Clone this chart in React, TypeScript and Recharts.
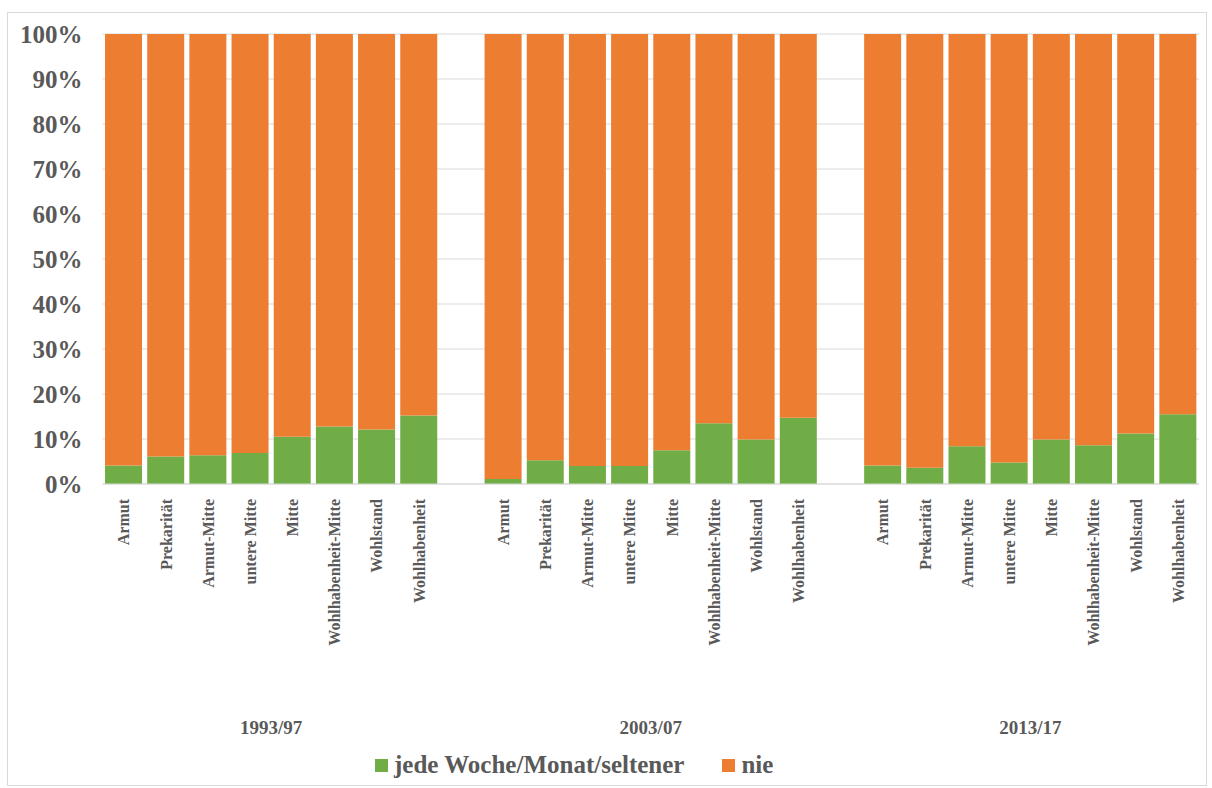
import React from 'react';
import { BarChart, Bar, XAxis, YAxis, CartesianGrid, Legend } from 'recharts';

const categories = ['Armut', 'Prekarität', 'Armut-Mitte', 'untere Mitte', 'Mitte', 'Wohlhabenheit-Mitte', 'Wohlstand', 'Wohlhabenheit'];
const periods = ['1993/97', '2003/07', '2013/17'];

// share "jede Woche/Monat/seltener" vs "nie", per period
const green1993 = [4.1, 6.1, 6.4, 6.9, 10.5, 12.8, 12.1, 15.2];
const nie1993 = [95.9, 93.9, 93.6, 93.1, 89.5, 87.2, 87.9, 84.8];
const green2003 = [1.1, 5.3, 4.0, 4.0, 7.5, 13.5, 9.9, 14.7];
const nie2003 = [98.9, 94.7, 96.0, 96.0, 92.5, 86.5, 90.1, 85.3];
const green2013 = [4.1, 3.6, 8.4, 4.8, 9.9, 8.6, 11.2, 15.5];
const nie2013 = [95.9, 96.4, 91.6, 95.2, 90.1, 91.4, 88.8, 84.5];

const yTicks = [0, 10, 20, 30, 40, 50, 60, 70, 80, 90, 100];

const GREEN = '#70AD47';
const ORANGE = '#ED7D31';
const TEXT = '#595959';
const FONT = '"Liberation Serif", serif';

const seriesByPeriod = [
  [green1993, nie1993],
  [green2003, nie2003],
  [green2013, nie2013],
];

// one empty slot between the period groups
const data: any[] = [];
seriesByPeriod.forEach(([g, n], p) => {
  categories.forEach((c, i) => {
    data.push({ key: `${p}-${i}`, label: c, period: periods[p], idx: i, green: g[i], nie: n[i] });
  });
  if (p < seriesByPeriod.length - 1) data.push({ key: `gap-${p}`, label: '', period: '', idx: -1 });
});

const W = 1198;
const H = 772;
const M = { top: 21, right: 7, left: 0, bottom: 0 };
const Y_W = 94.5;
const SLOT = (W - M.left - M.right - Y_W) / data.length;

const CatTick = (props: any) => {
  const { x, y, payload } = props;
  const row = data.find((d) => d.key === payload.value);
  if (!row || row.idx < 0) return null;
  return (
    <g>
      <text
        transform={`translate(${x},${y + 7}) rotate(-90)`}
        textAnchor="end"
        dy="0.36em"
        fill={TEXT}
        fontSize={16}
        fontWeight="bold"
        fontFamily={FONT}
      >
        {row.label}
      </text>
      {row.idx === 3 && (
        <text x={x + SLOT / 2} y={y + 242} textAnchor="middle" fill={TEXT} fontSize={19} fontWeight="bold" fontFamily={FONT}>
          {row.period}
        </text>
      )}
    </g>
  );
};

const LegendBox = () => (
  <div style={{ display: 'flex', alignItems: 'center', fontFamily: FONT, fontWeight: 'bold', fontSize: 25, color: TEXT }}>
    <span style={{ width: 13, height: 13, background: GREEN, display: 'inline-block', marginRight: 6 }} />
    <span>jede Woche/Monat/seltener</span>
    <span style={{ width: 13, height: 13, background: ORANGE, display: 'inline-block', marginLeft: 38, marginRight: 6 }} />
    <span>nie</span>
  </div>
);

export default function App() {
  return (
    <div style={{ position: 'absolute', left: 7, top: 12, width: W, height: H, border: '1px solid #d9d9d9', background: '#fff' }}>
      <BarChart width={W} height={H} data={data} margin={M} barCategoryGap="6%">
        <CartesianGrid vertical={false} stroke="#d9d9d9" />
        <XAxis
          dataKey="key"
          interval={0}
          height={273}
          tick={<CatTick />}
          tickLine={false}
          axisLine={{ stroke: '#d9d9d9' }}
        />
        <YAxis
          width={Y_W}
          domain={[0, 100]}
          ticks={yTicks}
          tickFormatter={(v: number) => `${v}%`}
          axisLine={false}
          tickLine={false}
          tickMargin={14}
          tick={{ fill: TEXT, fontSize: 25, fontWeight: 'bold', fontFamily: FONT }}
        />
        <Legend content={<LegendBox />} wrapperStyle={{ left: 367, top: 738, width: 'auto' }} />
        <Bar dataKey="green" stackId="a" fill={GREEN} name="jede Woche/Monat/seltener" isAnimationActive={false} />
        <Bar dataKey="nie" stackId="a" fill={ORANGE} name="nie" isAnimationActive={false} />
      </BarChart>
    </div>
  );
}
